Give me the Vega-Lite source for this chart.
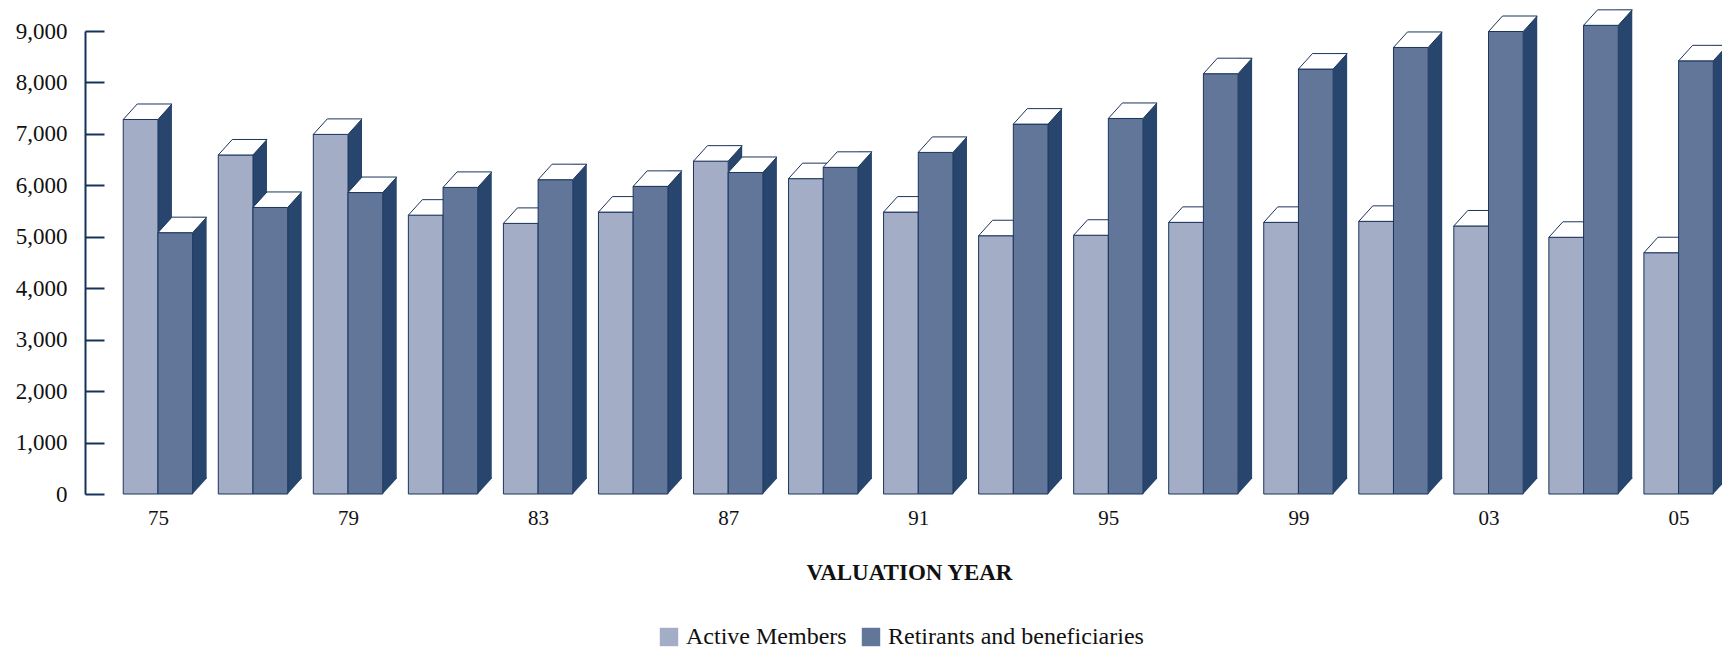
{
  "$schema": "https://vega.github.io/schema/vega-lite/v6.json",
  "autosize": {"type": "none"},
  "padding": {"left": 85, "top": 31, "right": 0, "bottom": 156},
  "width": 1637,
  "height": 463,
  "background": "white",
  "config": {
    "view": {"stroke": null},
    "font": "Liberation Serif"
  },
  "data": {
    "values": [
      {"year": "75", "series": "Active Members", "value": 7280},
      {"year": "75", "series": "Retirants and beneficiaries", "value": 5080},
      {"year": "77", "series": "Active Members", "value": 6590},
      {"year": "77", "series": "Retirants and beneficiaries", "value": 5570},
      {"year": "79", "series": "Active Members", "value": 6990},
      {"year": "79", "series": "Retirants and beneficiaries", "value": 5860},
      {"year": "81", "series": "Active Members", "value": 5420},
      {"year": "81", "series": "Retirants and beneficiaries", "value": 5960},
      {"year": "83", "series": "Active Members", "value": 5260},
      {"year": "83", "series": "Retirants and beneficiaries", "value": 6110},
      {"year": "85", "series": "Active Members", "value": 5480},
      {"year": "85", "series": "Retirants and beneficiaries", "value": 5980},
      {"year": "87", "series": "Active Members", "value": 6470},
      {"year": "87", "series": "Retirants and beneficiaries", "value": 6250},
      {"year": "89", "series": "Active Members", "value": 6130},
      {"year": "89", "series": "Retirants and beneficiaries", "value": 6350},
      {"year": "91", "series": "Active Members", "value": 5480},
      {"year": "91", "series": "Retirants and beneficiaries", "value": 6640},
      {"year": "93", "series": "Active Members", "value": 5020},
      {"year": "93", "series": "Retirants and beneficiaries", "value": 7190},
      {"year": "95", "series": "Active Members", "value": 5030},
      {"year": "95", "series": "Retirants and beneficiaries", "value": 7300},
      {"year": "97", "series": "Active Members", "value": 5280},
      {"year": "97", "series": "Retirants and beneficiaries", "value": 8170},
      {"year": "99", "series": "Active Members", "value": 5280},
      {"year": "99", "series": "Retirants and beneficiaries", "value": 8260},
      {"year": "01", "series": "Active Members", "value": 5300},
      {"year": "01", "series": "Retirants and beneficiaries", "value": 8680},
      {"year": "03", "series": "Active Members", "value": 5210},
      {"year": "03", "series": "Retirants and beneficiaries", "value": 8990},
      {"year": "04", "series": "Active Members", "value": 4990},
      {"year": "04", "series": "Retirants and beneficiaries", "value": 9110},
      {"year": "05", "series": "Active Members", "value": 4690},
      {"year": "05", "series": "Retirants and beneficiaries", "value": 8420}
    ]
  },
  "encoding": {
    "x": {
      "field": "year",
      "type": "nominal",
      "sort": null,
      "scale": {"type": "point", "padding": 0.612, "align": 0.627},
      "axis": {
        "values": ["75", "79", "83", "87", "91", "95", "99", "03", "05"],
        "domain": false,
        "ticks": false,
        "labelAngle": 0,
        "labelFont": "Liberation Serif",
        "labelFontSize": 21,
        "labelColor": "#111111",
        "labelPadding": 13,
        "title": "VALUATION YEAR",
        "titleFont": "Liberation Serif",
        "titleFontSize": 23,
        "titleFontWeight": "bold",
        "titleColor": "#111111",
        "titleX": 824,
        "titleY": 85,
        "titleBaseline": "alphabetic"
      }
    },
    "y": {
      "field": "value",
      "type": "quantitative",
      "scale": {"domain": [0, 9000], "nice": false},
      "axis": {
        "values": [0, 1000, 2000, 3000, 4000, 5000, 6000, 7000, 8000, 9000],
        "format": ",.0f",
        "grid": false,
        "title": null,
        "domainColor": "#14335c",
        "domainWidth": 2,
        "tickColor": "#14335c",
        "tickWidth": 2,
        "tickSize": -19,
        "labelFont": "Liberation Serif",
        "labelFontSize": 23,
        "labelColor": "#111111",
        "labelPadding": 37
      }
    }
  },
  "layer": [
    {
      "transform": [{"filter": "datum.series === 'Active Members'"}],
      "mark": {"type": "bar", "width": 14, "xOffset": 7, "yOffset": -15.5, "fill": "#28466d", "strokeWidth": 0}
    },
    {
      "transform": [{"filter": "datum.series === 'Active Members'"}],
      "mark": {"type": "point", "filled": true, "opacity": 1, "size": 4, "fill": "#28466d", "strokeWidth": 0, "xOffset": -17.35,
        "shape": "M17.35,-16.5 L31.35,-16.5 L31.35,-15.5 L17.35,0 Z"},
      "encoding": {"y": {"datum": 0}}
    },
    {
      "transform": [{"filter": "datum.series === 'Active Members'"}],
      "mark": {"type": "bar", "width": 34.7, "xOffset": -17.35, "stroke": "#1b355d", "strokeWidth": 1},
      "encoding": {
        "color": {
          "field": "series",
          "type": "nominal",
          "scale": {"domain": ["Active Members", "Retirants and beneficiaries"], "range": ["#a3aec6", "#617699"]},
          "legend": {
            "title": null,
            "orient": "none",
            "legendX": 572,
            "legendY": 594,
            "direction": "horizontal",
            "symbolType": "square",
            "symbolSize": 340,
            "symbolStrokeWidth": 0,
            "symbolOpacity": 1,
            "labelFont": "Liberation Serif",
            "labelFontSize": 24,
            "labelColor": "#111111",
            "labelLimit": 0,
            "labelOffset": 5,
            "columnPadding": 12
          }
        }
      }
    },
    {
      "transform": [{"filter": "datum.series === 'Active Members'"}],
      "mark": {"type": "point", "filled": true, "opacity": 1, "size": 4, "fill": "white", "stroke": "#1b355d", "strokeWidth": 1, "xOffset": -17.35,
        "shape": "M-17.35,0 L17.35,0 L31.35,-15.5 L-3.35,-15.5 Z"}
    },
    {
      "transform": [{"filter": "datum.series === 'Retirants and beneficiaries'"}],
      "mark": {"type": "bar", "width": 14, "xOffset": 41.7, "yOffset": -15.5, "fill": "#28466d", "strokeWidth": 0}
    },
    {
      "transform": [{"filter": "datum.series === 'Retirants and beneficiaries'"}],
      "mark": {"type": "point", "filled": true, "opacity": 1, "size": 4, "fill": "#28466d", "strokeWidth": 0, "xOffset": 17.35,
        "shape": "M17.35,-16.5 L31.35,-16.5 L31.35,-15.5 L17.35,0 Z"},
      "encoding": {"y": {"datum": 0}}
    },
    {
      "transform": [{"filter": "datum.series === 'Retirants and beneficiaries'"}],
      "mark": {"type": "bar", "width": 34.7, "xOffset": 17.35, "stroke": "#1b355d", "strokeWidth": 1},
      "encoding": {
        "color": {"field": "series", "type": "nominal"}
      }
    },
    {
      "transform": [{"filter": "datum.series === 'Retirants and beneficiaries'"}],
      "mark": {"type": "point", "filled": true, "opacity": 1, "size": 4, "fill": "white", "stroke": "#1b355d", "strokeWidth": 1, "xOffset": 17.35,
        "shape": "M-17.35,0 L17.35,0 L31.35,-15.5 L-3.35,-15.5 Z"}
    }
  ]
}
